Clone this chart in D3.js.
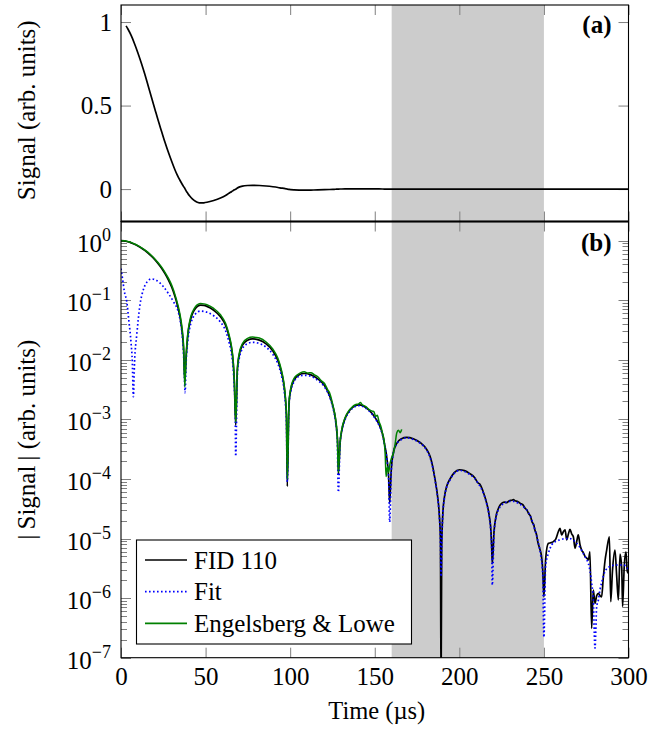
<!DOCTYPE html>
<meta charset="utf-8">
<title>FID 110 decay</title>
<style>
body { margin: 0; background: #fff; }
text { font-family: "Liberation Serif", "Times New Roman", serif; fill: #000; }
.tick line { stroke: #7f7f7f; }
</style>
<body>
<script src="https://d3js.org/d3.v7.min.js"></script>
<script>

////*Data*////
// FID 110 signal, [time in us, signal] (signed, used in both panels)
const fid110 = [
  [0,1.0],[2,0.99],[3,0.977],[4,0.96],[6,0.92],[8,0.87],[10,0.815],[12,0.755],[14,0.69],[16,0.62],[18,0.55],
  [20,0.48],[22,0.41],[24,0.345],[26,0.28],[28,0.22],[30,0.165],[32,0.113],[33,0.09],[34,0.069],[35,0.05],[36,0.032],[37,0.015],[37.7,0.0045],
  [38.5,-0.011],[39.5,-0.026],[40.5,-0.04],[41.5,-0.052],[42.5,-0.062],[44,-0.073],[45.5,-0.08],[47,-0.083],[49,-0.082],
  [50.8,-0.079],[54.8,-0.068],[58.8,-0.053],
  [61.8,-0.038],[63.8,-0.025],[65.3,-0.0158],[66.3,-0.0091],[67.0,-0.0042],[67.8,-0.0008],
  [68.8,0.0068],[69.8,0.0117],[71.8,0.0176],[74.8,0.0214],[77.8,0.0225],[81.8,0.0214],[85.8,0.0185],[89.8,0.014],
  [92.8,0.0097],[94.8,0.0063],[96.3,0.0038],[97.3,0.002],[97.8,0.0011],[98.3,0.000075],
  [99.3,-0.0018],[100.3,-0.0031],[102.3,-0.0046],[105.3,-0.0056],[108.3,-0.0059],[112.3,-0.0056],[116.3,-0.0048],
  [120.3,-0.0037],[123.3,-0.0025],[125.3,-0.00165],[126.8,-0.001],[127.8,-0.00053],[128.1,-0.0004],[128.5,-0.00012],
  [129.5,0.0004],[130.5,0.00065],[132.5,0.00104],[135.5,0.00145],[138.5,0.0017],[140.5,0.00175],[143.5,0.00167],
  [146.5,0.00144],[150.5,0.00104],[152.5,0.00083],[154.5,0.00058],[156,0.00036],[157.2,0.00022],[158.2,0.00011],[158.8,0.000039],
  [159.8,-0.00015],[160.8,-0.00026],[162.8,-0.00039],[165.8,-0.000475],[168.8,-0.0005],[172.8,-0.000475],[176.8,-0.00041],
  [180.8,-0.00031],[182.7,-0.00024],[184.3,-0.00016],[185.6,-0.0001],[187.0,-0.000055],[188.2,-0.000024],[188.8,-0.00001],[189.2,-0.00000003],
  [189.6,0.000008],[190.2,0.000025],[191.2,0.00005],[192.5,0.000075],[194.5,0.0001],[197,0.000128],[200,0.000143],
  [203,0.000138],[206,0.000124],[209,0.000106],[211.2,0.000085],[212,0.000083],[214.2,0.00006],[216.2,0.000039],
  [217.7,0.000024],[218.7,0.000013],[219.1,0.0000075],[219.5,0.0000038],
  [220.5,-0.000013],[221.5,-0.000022],[223.5,-0.000034],[225,-0.000039],[226.5,-0.000041],[228,-0.00004],[229.5,-0.000043],
  [231,-0.000044],[232,-0.000045],[233,-0.000043],[234.5,-0.000042],[236,-0.000039],[237.5,-0.000037],[239,-0.000032],
  [240,-0.00003],[241,-0.000026],[242,-0.000024],[243,-0.000019],[244,-0.000017],[244.7,-0.0000138],[245.5,-0.000012],
  [246.5,-0.0000085],[247.7,-0.0000065],[248.5,-0.0000052],[249.3,-0.000003],[250,-0.00000105],
  [251,0.0000045],[252.6,0.0000083],[254,0.0000085],[255.6,0.0000089],[257,0.0000098],[258.5,0.000013],[259.5,0.0000148],
  [260.5,0.0000115],[261.5,0.000013],[262.5,0.000014],[263.5,0.0000095],[264.5,0.000012],[265.4,0.0000143],[266.4,0.000012],
  [267.4,0.0000107],[268.4,0.0000069],[269.4,0.000009],[270.3,0.0000115],[271.3,0.000008],[272.3,0.0000064],[273.3,0.0000058],
  [274.3,0.000005],[275.3,0.0000047],[276.3,0.0000044],[277.2,0.000006],[278.2,0.00000031],
  [279.2,-0.00000137],[280.2,-0.00000082],[281.2,-0.0000011],[282.2,-0.0000012],[283.2,-0.0000011],[284.1,-0.00000105],
  [285.1,-0.0000022],[286.1,-0.0000042],[287.1,-0.0000064],[288.7,-0.0000107],[289.5,-0.00000087],[290.5,-0.0000028],
  [292,-0.0000064],[293,-0.0000024],[294,-0.00000093],[295,-0.0000055],[296,-0.0000032],[296.5,-0.00000072],
  [297.5,-0.0000035],[298.5,-0.000006],[299.3,-0.0000028],[300,-0.0000026]
];

// Fit, |signal| only
const fitMagnitude = [
  [0,0.34],[1,0.22],[2,0.14],[3.4,0.095],[4.7,0.044],[5.9,0.02],[6.7,0.009],[7.3,0.0024],[8.0,0.009],[9.3,0.026],
  [11.2,0.083],[13.2,0.15],[15.5,0.205],[18,0.228],[21,0.215],[25,0.17],[28,0.13],[31,0.095],[34,0.062],[35,0.046],
  [36,0.029],[37,0.012],[37.5,0.005],[37.9,0.0028],
  [38.5,0.009],[39.5,0.021],[40.5,0.033],[41.5,0.043],[42.5,0.051],[44,0.059],[45.5,0.064],[47,0.066],[49,0.065],
  [50.8,0.063],[54.8,0.055],[58.8,0.043],[61.8,0.031],
  [63.8,0.02],[65.3,0.0128],[66.3,0.0073],[67,0.0034],[67.5,0.0015],[67.8,0.00024],
  [68.8,0.0058],[69.8,0.0101],[71.8,0.0154],[74.8,0.0188],[77.8,0.0197],[81.8,0.0188],[85.8,0.0163],[89.8,0.0123],
  [92.8,0.0085],[94.8,0.0055],[96.3,0.0033],[97.3,0.0017],[97.8,0.0009],[98.3,0.00009],
  [99.3,0.0017],[100.3,0.0029],[102.3,0.0043],[105.3,0.0053],[108.3,0.0055],[112.3,0.0053],[116.3,0.0045],[120.3,0.0035],
  [123.3,0.0024],[125.3,0.00155],[126.8,0.00094],[127.8,0.0005],[128.5,0.00006],
  [129.5,0.00039],[130.5,0.00063],[132.5,0.001],[135.5,0.0014],[138.5,0.00165],[140.5,0.0017],[143.5,0.00162],
  [146.5,0.0014],[150.5,0.00101],[152.5,0.0008],[154.5,0.00056],[156,0.00035],[157.2,0.00021],[158.2,0.0001],[158.8,0.000019],
  [159.8,0.00014],[160.8,0.00025],[162.8,0.00038],[165.8,0.00046],[168.8,0.00049],[172.8,0.00046],[176.8,0.0004],
  [180.8,0.0003],[182.7,0.00023],[184.3,0.000155],[185.6,0.000097],[187,0.000053],[188.2,0.000023],[188.8,0.00001],[189.2,0.0000023],
  [189.6,0.0000078],[190.2,0.000024],[191.2,0.000048],[192.5,0.000073],[194.5,0.000097],[197,0.000124],[200,0.000139],
  [203,0.000134],[206,0.00012],[209,0.000103],[211.2,0.000084],[214.2,0.000058],[216.2,0.000038],[217.7,0.000023],
  [218.7,0.000012],[219.1,0.000007],[219.5,0.00000166],
  [220.5,0.000012],[221.5,0.000021],[223.5,0.000032],[226.5,0.000039],[229.5,0.000042],[232,0.000042],[235,0.000039],
  [238,0.000034],[241,0.000027],[243,0.00002],[244.7,0.000014],[246.5,0.000009],[248,0.0000055],[249.3,0.0000025],[250,0.00000022],
  [251,0.0000035],[252.6,0.0000056],[254.6,0.0000078],[257,0.000009],[259.5,0.0000095],[262.5,0.00001],[265.4,0.00001],
  [267.5,0.0000093],[269.4,0.0000083],[271.5,0.000007],[273.3,0.0000056],[275,0.0000046],[276.3,0.0000038],[277.3,0.0000028],
  [278.2,0.0000018],[279.2,0.00000093],[280.2,0.000000145],[281.2,0.00000072],[282.2,0.00000093],[283.2,0.0000014],
  [284.1,0.0000018],[286.1,0.0000028],[289,0.0000034],[293,0.0000036],[297,0.0000036],[300,0.000003]
];

// Engelsberg & Lowe, |signal| only
const engelsbergLowe = [
  [0,1.0],[2,0.995],[4,0.97],[6,0.93],[8,0.88],[10,0.825],[12,0.765],[14,0.70],[16,0.635],[18,0.565],[20,0.495],
  [22,0.425],[24,0.36],[26,0.295],[28,0.235],[30,0.178],[32,0.122],[33,0.097],[34,0.076],[35,0.055],[36,0.036],[37,0.017],[37.7,0.0035],
  [38.5,0.012],[39.5,0.028],[40.5,0.043],[41.5,0.056],[42.5,0.066],[44,0.078],[45.5,0.085],[47,0.088],[49,0.087],
  [50.8,0.084],[54.8,0.073],[58.8,0.057],[61.8,0.041],
  [63.8,0.027],[65.3,0.017],[66.3,0.0098],[67,0.0046],[67.8,0.0009],
  [68.8,0.0073],[69.8,0.0125],[71.8,0.0188],[74.8,0.0229],[77.8,0.0241],[79.8,0.0238],[81.8,0.0232],[85.8,0.0199],
  [89.8,0.0151],[92.8,0.0105],[94.8,0.0068],[96.3,0.0041],[97.3,0.0022],[97.8,0.0012],[98.3,0.0001],
  [99.3,0.0019],[100.3,0.0033],[102.3,0.0049],[104.3,0.0056],[106.3,0.0061],[108.3,0.0063],[110.3,0.006],[112.3,0.0061],
  [114.3,0.0056],[116.3,0.0052],[118.3,0.0045],[120.3,0.004],[122.3,0.0031],[123.3,0.0028],[125.3,0.0017],[126.8,0.00105],
  [127.8,0.00055],[128.5,0.00013],
  [129.5,0.00042],[130.5,0.00068],[132.5,0.00108],[134.5,0.00138],[136.5,0.0016],[138.5,0.00176],[140.5,0.00182],
  [141.5,0.00192],[142.5,0.00178],[144.5,0.00166],[146.5,0.00148],[148.5,0.00138],[149.5,0.00135],[150.5,0.00112],
  [151.5,0.00118],[152.5,0.00092],[153.5,0.00078],[154.5,0.0006],[155.5,0.00044],[156.2,0.00025],[156.7,0.00011],
  [157.5,0.00016],[158.2,0.00013],[159,0.00018],[160,0.00023],[161,0.00027],[162,0.00038],[163,0.00059],[164,0.00066],
  [165,0.0006],[165.9,0.00068]
];

const timeDomain = [0, 300];
const signalDomain = [-0.194, 1.102];
const magnitudeDomain = [1e-7, 2.1];
const timeTicks = [0, 50, 100, 150, 200, 250, 300];
const signalTicks = [0, 0.5, 1];
const shadedWindow = [160, 250];
const legendLabels = ["FID 110", "Fit", "Engelsberg & Lowe"];
const seriesColors = ["#000000", "#0000ff", "#008000"];

////*Layout*////
const plotVars = ({
  width: 670,
  height: 729,
  left: 121,
  right: 628.5,
  aTop: 5,
  aBottom: 221.5,   // shared edge of panel (a) and panel (b)
  bBottom: 657.7,
  majorTick: 10,
  minorTick: 6,
  fontSize: 25,
  labelSize: 24.5
});

const svg = d3.select("body").append("svg")
  .attr("width", plotVars.width)
  .attr("height", plotVars.height)
  .style("display", "block");

const xScale = d3.scaleLinear().domain(timeDomain).range([plotVars.left, plotVars.right]);
const yScaleA = d3.scaleLinear().domain(signalDomain).range([plotVars.aBottom, plotVars.aTop]);
const yScaleB = d3.scaleLog().domain(magnitudeDomain).range([plotVars.bBottom, plotVars.aBottom]);

const defs = svg.append("defs");
defs.append("clipPath").attr("id", "clipA").append("rect")
  .attr("x", plotVars.left).attr("y", plotVars.aTop)
  .attr("width", plotVars.right - plotVars.left).attr("height", plotVars.aBottom - plotVars.aTop);
defs.append("clipPath").attr("id", "clipB").append("rect")
  .attr("x", plotVars.left).attr("y", plotVars.aBottom)
  .attr("width", plotVars.right - plotVars.left).attr("height", plotVars.bBottom - plotVars.aBottom);

////*Shaded window, spans both panels*////
svg.append("rect")
  .attr("x", xScale(shadedWindow[0]))
  .attr("y", plotVars.aTop)
  .attr("width", xScale(shadedWindow[1]) - xScale(shadedWindow[0]))
  .attr("height", plotVars.bBottom - plotVars.aTop)
  .attr("fill", "#cccccc");

////*Ticks*////
function strip(g) { g.select(".domain").remove(); }

// x ticks: top and bottom of each panel, pointing inward
svg.append("g").attr("transform", `translate(0,${plotVars.aTop})`)
  .call(d3.axisTop(xScale).tickValues(timeTicks).tickSize(-plotVars.majorTick).tickFormat("")).call(strip);
svg.append("g").attr("transform", `translate(0,${plotVars.aBottom})`)
  .call(d3.axisBottom(xScale).tickValues(timeTicks).tickSize(-plotVars.majorTick).tickFormat("")).call(strip);
svg.append("g").attr("transform", `translate(0,${plotVars.aBottom})`)
  .call(d3.axisTop(xScale).tickValues(timeTicks).tickSize(-plotVars.majorTick).tickFormat("")).call(strip);
svg.append("g").attr("transform", `translate(0,${plotVars.bBottom})`)
  .call(d3.axisBottom(xScale).tickValues(timeTicks).tickSize(-plotVars.majorTick).tickPadding(10))
  .call(strip)
  .selectAll("text").attr("font-size", plotVars.fontSize).attr("font-family", null);

// panel (a) y ticks
svg.append("g").attr("transform", `translate(${plotVars.left},0)`)
  .call(d3.axisLeft(yScaleA).tickValues(signalTicks).tickSize(-plotVars.majorTick).tickPadding(9).tickFormat(d => d))
  .call(strip)
  .selectAll("text").attr("font-size", plotVars.fontSize).attr("font-family", null);
svg.append("g").attr("transform", `translate(${plotVars.right},0)`)
  .call(d3.axisRight(yScaleA).tickValues(signalTicks).tickSize(-plotVars.majorTick).tickFormat(""))
  .call(strip);

// panel (b) log ticks, majors at decades
const logTicks = yScaleB.ticks().filter(v => v < 2);
const isDecade = v => Math.abs(Math.log10(v) - Math.round(Math.log10(v))) < 1e-9;

const logTickG = svg.append("g").attr("stroke", "#7f7f7f").attr("stroke-width", 1);
logTickG.selectAll("line.left")
  .data(logTicks)
  .join("line")
  .attr("x1", plotVars.left)
  .attr("x2", v => plotVars.left + (isDecade(v) ? plotVars.majorTick : plotVars.minorTick))
  .attr("y1", v => Math.round(yScaleB(v)) + 0.5)
  .attr("y2", v => Math.round(yScaleB(v)) + 0.5);
logTickG.selectAll("line.right")
  .data(logTicks)
  .join("line")
  .attr("x1", plotVars.right)
  .attr("x2", v => plotVars.right - (isDecade(v) ? plotVars.majorTick : plotVars.minorTick))
  .attr("y1", v => Math.round(yScaleB(v)) + 0.5)
  .attr("y2", v => Math.round(yScaleB(v)) + 0.5);

const decadeLabels = svg.append("g")
  .selectAll("text")
  .data(logTicks.filter(isDecade))
  .join("text")
  .attr("x", plotVars.left - 10)
  .attr("y", v => yScaleB(v) + 11)
  .attr("text-anchor", "end")
  .attr("font-size", plotVars.fontSize);
decadeLabels.append("tspan").text("10");
decadeLabels.append("tspan")
  .attr("dy", -11)
  .attr("font-size", 18)
  .text(v => { const e = Math.round(Math.log10(v)); return e < 0 ? "\u2212" + (-e) : String(e); });

////*Curves*////
const lineA = d3.line()
  .x(d => xScale(d[0]))
  .y(d => yScaleA(d[1]))
  .curve(d3.curveMonotoneX);

const lineB = d3.line()
  .x(d => xScale(d[0]))
  .y(d => yScaleB(Math.abs(d[1])))
  .curve(d3.curveMonotoneX);

svg.append("g").attr("clip-path", "url(#clipA)")
  .append("path")
  .datum(fid110.filter(d => d[0] >= 3))
  .attr("d", lineA)
  .attr("fill", "none")
  .attr("stroke", seriesColors[0])
  .attr("stroke-width", 1.7);

const panelB = svg.append("g").attr("clip-path", "url(#clipB)");
panelB.append("path").datum(fid110).attr("d", lineB)
  .attr("fill", "none").attr("stroke", seriesColors[0]).attr("stroke-width", 1.7).attr("stroke-linejoin", "round");
panelB.append("path").datum(fitMagnitude).attr("d", lineB)
  .attr("fill", "none").attr("stroke", seriesColors[1]).attr("stroke-width", 1.7).attr("stroke-dasharray", "1.6 2.4");
panelB.append("path").datum(engelsbergLowe).attr("d", lineB)
  .attr("fill", "none").attr("stroke", seriesColors[2]).attr("stroke-width", 1.5).attr("stroke-linejoin", "round");

////*Frames*////
svg.append("rect")
  .attr("x", plotVars.left).attr("y", plotVars.aTop)
  .attr("width", plotVars.right - plotVars.left).attr("height", plotVars.aBottom - plotVars.aTop)
  .attr("fill", "none").attr("stroke", "#000").attr("stroke-width", 1.1);
svg.append("rect")
  .attr("x", plotVars.left).attr("y", plotVars.aBottom)
  .attr("width", plotVars.right - plotVars.left).attr("height", plotVars.bBottom - plotVars.aBottom)
  .attr("fill", "none").attr("stroke", "#000").attr("stroke-width", 1.1);
svg.append("line")
  .attr("x1", plotVars.left).attr("x2", plotVars.right)
  .attr("y1", plotVars.aBottom).attr("y2", plotVars.aBottom)
  .attr("stroke", "#000").attr("stroke-width", 1.8);

////*Panel tags and axis labels*////
svg.append("text")
  .attr("x", 611.5).attr("y", 33)
  .attr("text-anchor", "end").attr("font-weight", "bold").attr("font-size", plotVars.fontSize)
  .text("(a)");
svg.append("text")
  .attr("x", 611.5).attr("y", 251)
  .attr("text-anchor", "end").attr("font-weight", "bold").attr("font-size", plotVars.fontSize)
  .text("(b)");

svg.append("text")
  .attr("transform", `translate(35,${(plotVars.aTop + plotVars.aBottom) / 2 - 3}) rotate(-90)`)
  .attr("text-anchor", "middle").attr("font-size", plotVars.fontSize)
  .text("Signal (arb. units)");
svg.append("text")
  .attr("transform", `translate(35,${(plotVars.aBottom + plotVars.bBottom) / 2}) rotate(-90)`)
  .attr("text-anchor", "middle").attr("font-size", plotVars.fontSize)
  .text("|\u2009Signal\u2009| (arb. units)");
svg.append("text")
  .attr("x", (plotVars.left + plotVars.right) / 2 + 2).attr("y", 719)
  .attr("text-anchor", "middle").attr("font-size", plotVars.labelSize)
  .text("Time (\u00b5s)");

////*Legend*////
const legend = svg.append("g").attr("transform", "translate(136.5,540)");
legend.append("rect")
  .attr("width", 275).attr("height", 104)
  .attr("fill", "#fff").attr("stroke", "#000").attr("stroke-width", 1.1);
const legendRows = legend.selectAll("g.row")
  .data(legendLabels)
  .join("g")
  .attr("transform", (d, i) => `translate(0,${20 + i * 31.7})`);
legendRows.append("line")
  .attr("x1", 8.5).attr("x2", 50.5)
  .attr("stroke", (d, i) => seriesColors[i])
  .attr("stroke-width", (d, i) => i === 1 ? 1.7 : 1.6)
  .attr("stroke-dasharray", (d, i) => i === 1 ? "1.6 2.4" : null);
legendRows.append("text")
  .attr("x", 57.5).attr("dy", "0.35em")
  .attr("font-size", plotVars.fontSize)
  .text(d => d);

</script>
</body>
